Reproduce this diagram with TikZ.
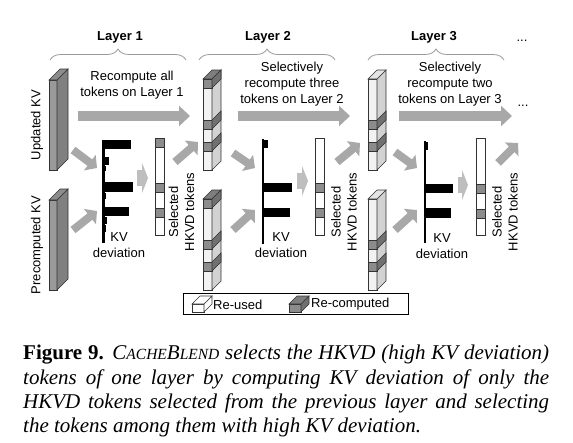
\documentclass[tikz,border=0pt]{standalone}
\usepackage{fontspec}
\setmainfont{Liberation Sans}
\newfontfamily\capfont{Liberation Serif}
\usetikzlibrary{calc,arrows.meta,decorations.pathreplacing}
\usepackage{xcolor}
\definecolor{slabfront}{HTML}{9A9A9A}
\definecolor{slabside}{HTML}{808080}
\definecolor{slabtop}{HTML}{8C8C8C}
\definecolor{colfront}{HTML}{F2F2F2}
\definecolor{colside}{HTML}{D2D2D2}
\definecolor{coltop}{HTML}{E4E4E4}
\definecolor{bandfront}{HTML}{8C8C8C}
\definecolor{bandside}{HTML}{707070}
\definecolor{bandtop}{HTML}{7E7E7E}
\definecolor{arrowgray}{HTML}{A8A8A8}
\definecolor{chevgray}{HTML}{BEBEBE}
\definecolor{bracegray}{HTML}{9A9A9A}

\tikzset{
  txt/.style={font=\fontsize{13}{16}\selectfont, align=center, inner sep=0pt},
  head/.style={font=\bfseries\fontsize{13}{16}\selectfont, inner sep=0pt},
  brc/.style={draw=bracegray, line width=0.8pt, decorate, decoration={brace, amplitude=11pt}},
  bigarrow/.style={draw=arrowgray, line width=10pt, -{Triangle[length=11pt,width=20pt]}},
  sarrow/.style={draw=arrowgray, line width=8pt, -{Triangle[length=9pt,width=19pt]}},
  chev/.style={draw=chevgray, line width=16pt, -{Triangle[length=6pt,width=30pt]}},
  edge/.style={draw=black!80, line width=0.6pt}
}

% x, y, width, height, depth, front, side, top
\newcommand{\slab}[8]{%
  \filldraw[edge, fill=#6] (#1,#2) rectangle ++(#3,#4);
  \filldraw[edge, fill=#7] (#1+#3,#2) -- ++(#5,-#5) -- ++(0,#4) -- ++(-#5,#5) -- cycle;
  \filldraw[edge, fill=#8] (#1,#2) -- ++(#5,-#5) -- ++(#3,0) -- ++(-#5,#5) -- cycle;
}
% token column: x, y, band offsets, top colour
\newcommand{\tokcol}[4]{%
  \slab{#1}{#2}{9}{91}{9}{colfront}{colside}{#4}
  \foreach \o in {#3}{
    \filldraw[edge, fill=bandfront] (#1,#2+\o) rectangle ++(9,9);
    \filldraw[edge, fill=bandside] (#1+9,#2+\o) -- ++(9,-9) -- ++(0,9) -- ++(-9,9) -- cycle;
  }
}
% selected column: x, band tops
\newcommand{\selcol}[2]{%
  \filldraw[edge, fill=white] (#1,138) rectangle ++(9,97);
  \foreach \o in {#2}{\filldraw[edge, fill=bandfront] (#1,\o) rectangle ++(9,9);}
}
\newcommand{\smc}[1]{{\fontsize{15.5}{24}\selectfont #1}}

\begin{document}
\begin{tikzpicture}[x=1pt,y=-1pt]
\useasboundingbox (0,0) rectangle (573,442);
\fill[white] (0,0) rectangle (573,442);

% layer headers
\node[head] (l1) at (120,37) {Layer 1};
\node[head] (l2) at (268,37) {Layer 2};
\node[head] (l3) at (434,37) {Layer 3};
\draw[brc] (50,60) -- (186,60);
\draw[brc] (199,60) -- (335,60);
\draw[brc] (368,60) -- (504,60);
\node[txt] (dots1) at (522,41) {...};

% inputs
\slab{49}{80}{8}{90}{11}{slabfront}{slabside}{slabtop}
\slab{49}{200}{8}{90}{11}{slabfront}{slabside}{slabtop}
\node[txt, rotate=90] (upd) at (37,125) {Updated KV};
\node[txt, rotate=90] (pre) at (37,245) {Precomputed KV};

% token columns of layers 2 and 3
\tokcol{203}{79}{0,41,63}{bandtop}
\tokcol{203}{199}{0,41,63}{bandtop}
\tokcol{368}{79}{41,63}{coltop}
\tokcol{368}{199}{41,63}{coltop}

% recompute arrows
\node[txt] (rc1) at (132,85) {Recompute all\\tokens on Layer 1};
\node[txt] (rc2) at (292,84) {Selectively\\recompute three\\tokens on Layer 2};
\node[txt] (rc3) at (450,84) {Selectively\\recompute two\\tokens on Layer 3};
\coordinate (r1a) at (78,116); \coordinate (r1b) at (190,116);
\coordinate (r2a) at (238,116); \coordinate (r2b) at (350,116);
\coordinate (r3a) at (399,116); \coordinate (r3b) at (512,116);
\draw[bigarrow] (r1a) -- (r1b);
\draw[bigarrow] (r2a) -- (r2b);
\draw[bigarrow] (r3a) -- (r3b);
\node[txt] (dots2) at (523,106) {...};

% KV deviation bars
\draw[line width=3pt] (103,140) -- (103,243);
\foreach \a/\b/\l in {140/149/131, 151/156/105, 157/165/109, 166/171/106, 173/181/105,
  182/192/133, 193/199/106, 200/206/105, 207/216/129, 217/224/107, 225/232/106, 233/240/105}
  {\fill (102,\a) rectangle (\l,\b);}
\draw[line width=1.6pt] (263,139) -- (263,244);
\foreach \a/\b/\l in {140/148/268, 183/192/292, 208/217/290}
  {\fill (263,\a) rectangle (\l,\b);}
\draw[line width=1.6pt] (425,141) -- (425,243);
\foreach \a/\b/\l in {142/150/428, 184/193/453, 208/218/451}
  {\fill (425,\a) rectangle (\l,\b);}
\node[txt] (dev1) at (119,245) {KV\\deviation};
\node[txt] (dev2) at (281,245) {KV\\deviation};
\node[txt] (dev3) at (442,246) {KV\\deviation};

% selected HKVD tokens
\selcol{155}{138,183,208}
\selcol{315}{183,208}
\selcol{476}{184,209}
\node[txt, rotate=90] (sel1) at (181.5,212) {Selected\\HKVD tokens};
\node[txt, rotate=90] (sel2) at (344,212) {Selected\\HKVD tokens};
\node[txt, rotate=90] (sel3) at (505,212) {Selected\\HKVD tokens};

% small arrows
\coordinate (u1a) at (73,150); \coordinate (u1b) at (97,168);
\coordinate (p1a) at (73,230); \coordinate (p1b) at (97,211);
\coordinate (s1a) at (175,162); \coordinate (s1b) at (198,142);
\coordinate (u2a) at (233,153); \coordinate (u2b) at (255,168);
\coordinate (p2a) at (233,230); \coordinate (p2b) at (255,210);
\coordinate (s2a) at (337,162); \coordinate (s2b) at (360,143);
\coordinate (u3a) at (395,152); \coordinate (u3b) at (417,168);
\coordinate (p3a) at (395,230); \coordinate (p3b) at (417,210);
\coordinate (s3a) at (498,163); \coordinate (s3b) at (518,143);
\foreach \n in {u1,p1,s1,u2,p2,s2,u3,p3,s3}
  {\draw[sarrow] (\n a) -- (\n b);}
\coordinate (c1a) at (137,178); \coordinate (c1b) at (148,178);
\coordinate (c2a) at (297,181); \coordinate (c2b) at (308,181);
\coordinate (c3a) at (458,185); \coordinate (c3b) at (468,185);
\draw[chev] (c1a) -- (c1b);
\draw[chev] (c2a) -- (c2b);
\draw[chev] (c3a) -- (c3b);

% legend
\draw[line width=0.7pt] (183,293) rectangle (408,314);
\slab{192}{304}{12}{8}{8}{white}{white}{white}
\node[txt, anchor=west] (reused) at (213,305) {Re-used};
\slab{289}{304}{12}{8}{8}{bandfront}{bandside}{bandtop}
\node[txt, anchor=west] (recomp) at (311,304) {Re-computed};

% caption
\node[anchor=north west, text width=526pt, inner sep=0pt, align=justify,
  font=\capfont\fontsize{21}{24.3}\selectfont] (cap) at (23,345)
  {{\bfseries Figure 9.} \itshape C\smc{ACHE}B\smc{LEND} selects the HKVD (high KV deviation)\linebreak
   tokens of one layer by computing KV deviation of only the\linebreak
   HKVD tokens selected from the previous layer and selecting\linebreak
   the tokens among them with high KV deviation.\par};
\end{tikzpicture}
\end{document}
